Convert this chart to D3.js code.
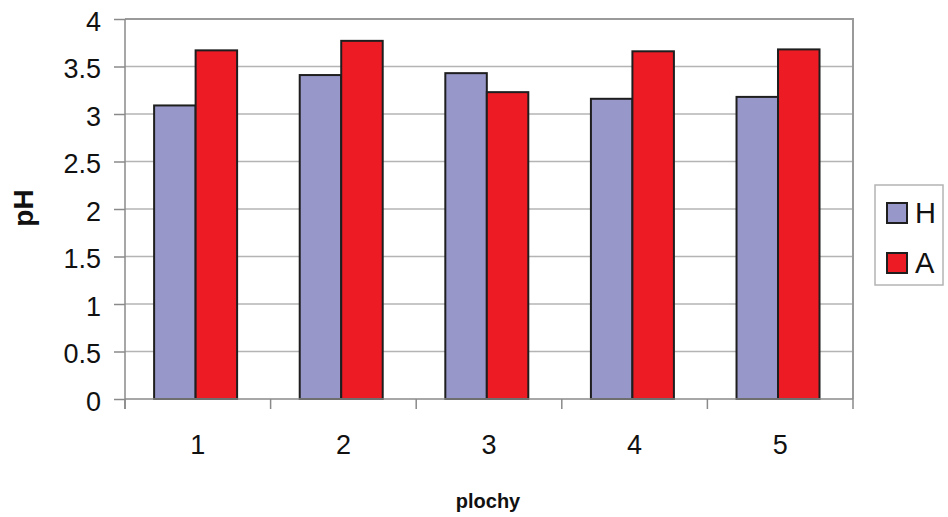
<!DOCTYPE html>
<html>
<head>
<meta charset="utf-8">
<script src="https://cdn.jsdelivr.net/npm/d3@7/dist/d3.min.js"></script>
<style>
  body { margin: 0; background: #fff; }
  svg { display: block; font-family: Arial, 'Liberation Sans', sans-serif; }
</style>
</head>
<body>
<svg id="chart" width="948" height="517"></svg>
<script>
'use strict'

// data
const categories = ['1', '2', '3', '4', '5']
const seriesNames = ['H', 'A']
const valuesH = [3.09, 3.41, 3.43, 3.16, 3.18]
const valuesA = [3.67, 3.77, 3.23, 3.66, 3.68]
const yTicks = [0, 0.5, 1, 1.5, 2, 2.5, 3, 3.5, 4]
const colors = ['#9797c9', '#ed1c24']

const rows = categories.map(function (c, i) {
  return {key: c, values: [valuesH[i], valuesA[i]]}
})

const margin = {left: 125, top: 19, right: 95, bottom: 118}
const width = 948 - margin.left - margin.right
const height = 517 - margin.top - margin.bottom

const svg = d3.select('#chart')
const g = svg.append('g').attr('transform', `translate(${margin.left},${margin.top})`)

const x0 = d3.scaleBand().domain(categories).range([0, width])
const bw = x0.bandwidth()
const x1 = d3.scaleBand().domain(seriesNames).range([bw * 0.2, bw * 0.77])
const y = d3.scaleLinear().domain([0, 4]).range([height, 0])
const color = d3.scaleOrdinal().domain(seriesNames).range(colors)

// gridlines
g.append('g').selectAll('line')
  .data(yTicks.filter(function (d) { return d > 0 }))
  .enter().append('line')
  .attr('x1', 0).attr('x2', width)
  .attr('y1', function (d) { return y(d) })
  .attr('y2', function (d) { return y(d) })
  .attr('stroke', '#b4b4b4').attr('stroke-width', 1.5)

// plot frame (top + right)
g.append('path')
  .attr('d', `M0,0H${width}V${height}`)
  .attr('fill', 'none').attr('stroke', '#9a9a9a').attr('stroke-width', 2)

// bars
const groups = g.selectAll('.grp').data(rows).enter().append('g')
  .attr('class', 'grp')
  .attr('transform', function (d) { return `translate(${x0(d.key)},0)` })
groups.selectAll('rect')
  .data(function (d) {
    return d.values.map(function (v, i) { return {name: seriesNames[i], value: v} })
  })
  .enter().append('rect')
  .attr('x', function (d) { return x1(d.name) })
  .attr('y', function (d) { return y(d.value) })
  .attr('width', x1.bandwidth())
  .attr('height', function (d) { return height - y(d.value) })
  .attr('fill', function (d) { return color(d.name) })
  .attr('stroke', '#1e1e1e').attr('stroke-width', 2)

// y axis
const yAxis = d3.axisLeft(y).tickValues(yTicks).tickSize(11).tickPadding(13)
  .tickFormat(function (d) { return String(d) })
const ya = g.append('g').call(yAxis)
ya.select('.domain').remove()
ya.append('line').attr('x1', 0).attr('x2', 0).attr('y1', 0).attr('y2', height + 10)
  .attr('stroke', '#8a8a8a').attr('stroke-width', 1.5)
ya.selectAll('.tick line').attr('stroke', '#8a8a8a').attr('stroke-width', 1.5)
ya.selectAll('.tick text').attr('font-size', 27).attr('fill', '#111')
  .attr('font-family', 'Arial, Liberation Sans, sans-serif').attr('dy', '0.42em')

// x axis
const xa = g.append('g').attr('transform', `translate(0,${height})`)
xa.append('line').attr('x1', 0).attr('x2', width)
  .attr('stroke', '#8a8a8a').attr('stroke-width', 1.5)
xa.selectAll('.xt').data(d3.range(categories.length + 1)).enter().append('line')
  .attr('x1', function (i) { return i * bw }).attr('x2', function (i) { return i * bw })
  .attr('y1', 0).attr('y2', 10)
  .attr('stroke', '#8a8a8a').attr('stroke-width', 1.5)
xa.selectAll('.xl').data(categories).enter().append('text')
  .attr('x', function (d) { return x0(d) + bw / 2 })
  .attr('y', 55)
  .attr('text-anchor', 'middle').attr('font-size', 27).attr('fill', '#111')
  .text(function (d) { return d })

// axis titles
svg.append('text')
  .attr('x', 488).attr('y', 508)
  .attr('text-anchor', 'middle').attr('font-size', 20).attr('font-weight', 'bold')
  .attr('fill', '#111').text('plochy')
svg.append('text')
  .attr('transform', 'translate(33,208) rotate(-90)')
  .attr('text-anchor', 'middle').attr('font-size', 28).attr('font-weight', 'bold')
  .attr('fill', '#111').text('pH')

// legend
const lg = svg.append('g').attr('transform', 'translate(875,185)')
lg.append('rect').attr('width', 68).attr('height', 100)
  .attr('fill', '#fff').attr('stroke', '#b4b4b4').attr('stroke-width', 1.5)
const items = lg.selectAll('.li').data(seriesNames).enter().append('g')
  .attr('transform', function (d, i) { return `translate(12,${18 + i * 50})` })
items.append('rect').attr('width', 20).attr('height', 20)
  .attr('fill', function (d) { return color(d) })
  .attr('stroke', '#1e1e1e').attr('stroke-width', 2)
items.append('text').attr('x', 28).attr('y', 20)
  .attr('font-size', 29).attr('fill', '#111')
  .text(function (d) { return d })
</script>
</body>
</html>
